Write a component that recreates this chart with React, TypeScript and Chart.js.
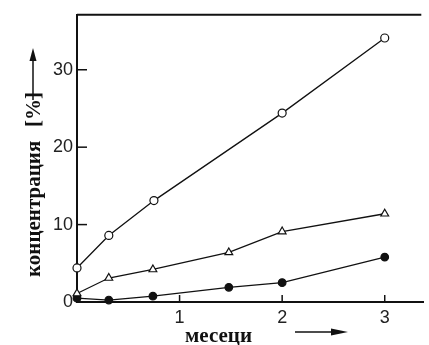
import React, { useEffect, useRef } from "react";
import { Chart, registerables } from "chart.js";

Chart.register(...registerables);

// ---- data ----
const monthsOpen = [0, 0.31, 0.75, 2, 3];
const valuesOpen = [4.4, 8.6, 13.1, 24.4, 34.1];
const monthsTri = [0, 0.31, 0.74, 1.48, 2, 3];
const valuesTri = [1.1, 3.1, 4.2, 6.4, 9.1, 11.4];
const monthsFilled = [0, 0.31, 0.74, 1.48, 2, 3];
const valuesFilled = [0.5, 0.25, 0.75, 1.9, 2.5, 5.8];
const xTicks = [1, 2, 3];
const yTicks = [0, 10, 20, 30];
const xTitle = "месеци";
const yTitle = "концентрация";
const yUnit = "[%]";

const INK = "#111";
const TICK_FONT = { family: "'Liberation Sans', Arial, sans-serif", size: 18 };
const TITLE_FONT = "bold 21px 'Liberation Serif', 'Times New Roman', serif";

const toPoints = (xs: number[], ys: number[]) => xs.map((x, i) => ({ x, y: ys[i] }));

const decorPlugin = {
  id: "decor",
  afterDraw(chart: any) {
    const { ctx, chartArea, scales } = chart;
    const { left, right, top, bottom } = chartArea;
    ctx.save();
    ctx.strokeStyle = INK;
    ctx.fillStyle = INK;
    // top frame line
    ctx.lineWidth = 2;
    ctx.beginPath();
    ctx.moveTo(left, top);
    ctx.lineTo(right - 2, top);
    ctx.stroke();
    // inward ticks
    ctx.lineWidth = 1.5;
    yTicks.forEach((v) => {
      if (v === 0) return;
      const py = scales.y.getPixelForValue(v);
      ctx.beginPath();
      ctx.moveTo(left, py);
      ctx.lineTo(left + 10, py);
      ctx.stroke();
    });
    xTicks.forEach((v) => {
      const px = scales.x.getPixelForValue(v);
      ctx.beginPath();
      ctx.moveTo(px, bottom);
      ctx.lineTo(px, bottom - 7);
      ctx.stroke();
    });
    // x title + arrow
    ctx.font = TITLE_FONT;
    ctx.textBaseline = "alphabetic";
    ctx.textAlign = "left";
    ctx.fillText(xTitle, left + 108, bottom + 40);
    const ay = bottom + 30;
    const ax0 = left + 218;
    const ax1 = left + 271;
    ctx.lineWidth = 1.5;
    ctx.beginPath();
    ctx.moveTo(ax0, ay);
    ctx.lineTo(ax1 - 14, ay);
    ctx.stroke();
    ctx.beginPath();
    ctx.moveTo(ax1, ay);
    ctx.lineTo(ax1 - 17, ay - 3.5);
    ctx.lineTo(ax1 - 17, ay + 3.5);
    ctx.closePath();
    ctx.fill();
    // y title (rotated) + arrow
    ctx.translate(34, bottom - 25);
    ctx.rotate(-Math.PI / 2);
    ctx.fillText(yTitle, 0, 6);
    ctx.fillText(yUnit, 150, 6);
    const by = -1;
    const bx0 = 177;
    const bx1 = 229;
    ctx.beginPath();
    ctx.moveTo(bx0, by);
    ctx.lineTo(bx1 - 10, by);
    ctx.stroke();
    ctx.beginPath();
    ctx.moveTo(bx1, by);
    ctx.lineTo(bx1 - 13, by - 3.5);
    ctx.lineTo(bx1 - 13, by + 3.5);
    ctx.closePath();
    ctx.fill();
    ctx.restore();
  },
};

export default function App() {
  const ref = useRef<HTMLCanvasElement | null>(null);

  useEffect(() => {
    if (!ref.current) return;
    const common = {
      borderColor: INK,
      borderWidth: 1.3,
      pointBorderColor: INK,
      pointBorderWidth: 1.2,
      pointRadius: 4,
      showLine: true,
      tension: 0,
      clip: false as any,
    };
    const chart = new Chart(ref.current, {
      type: "line",
      data: {
        datasets: [
          {
            ...common,
            label: "o",
            data: toPoints(monthsOpen, valuesOpen),
            pointStyle: "circle",
            pointBackgroundColor: "#fff",
          },
          {
            ...common,
            label: "tri",
            data: toPoints(monthsTri, valuesTri),
            pointStyle: "triangle",
            pointRadius: 4.5,
            pointBackgroundColor: "#fff",
          },
          {
            ...common,
            label: "filled",
            data: toPoints(monthsFilled, valuesFilled),
            pointStyle: "circle",
            pointRadius: 3.8,
            pointBackgroundColor: INK,
          },
        ],
      },
      options: {
        responsive: false,
        animation: false,
        layout: { padding: { top: 5, right: 2, left: 0, bottom: 0 } },
        plugins: { legend: { display: false }, tooltip: { enabled: false }, title: { display: false } },
        scales: {
          x: {
            type: "linear",
            min: 0,
            max: 3.376,
            grid: { display: false, drawTicks: false },
            border: { display: true, color: INK, width: 2 },
            ticks: { font: TICK_FONT, color: "#222", padding: 5, maxRotation: 0, autoSkip: false },
            afterBuildTicks: (s: any) => {
              s.ticks = xTicks.map((v) => ({ value: v }));
            },
            afterFit: (s: any) => {
              s.height = 43;
            },
          },
          y: {
            type: "linear",
            min: 0,
            max: 37.1,
            grid: { display: false, drawTicks: false },
            border: { display: true, color: INK, width: 2 },
            ticks: { font: TICK_FONT, color: "#222", padding: 4 },
            afterBuildTicks: (s: any) => {
              s.ticks = yTicks.map((v) => ({ value: v }));
            },
            afterFit: (s: any) => {
              s.width = 77;
            },
          },
        },
      },
      plugins: [decorPlugin],
    });
    return () => chart.destroy();
  }, []);

  return (
    <div style={{ position: "fixed", left: 0, top: 0, width: 429, height: 345, background: "#fff" }}>
      <canvas ref={ref} width={429} height={345} />
    </div>
  );
}
